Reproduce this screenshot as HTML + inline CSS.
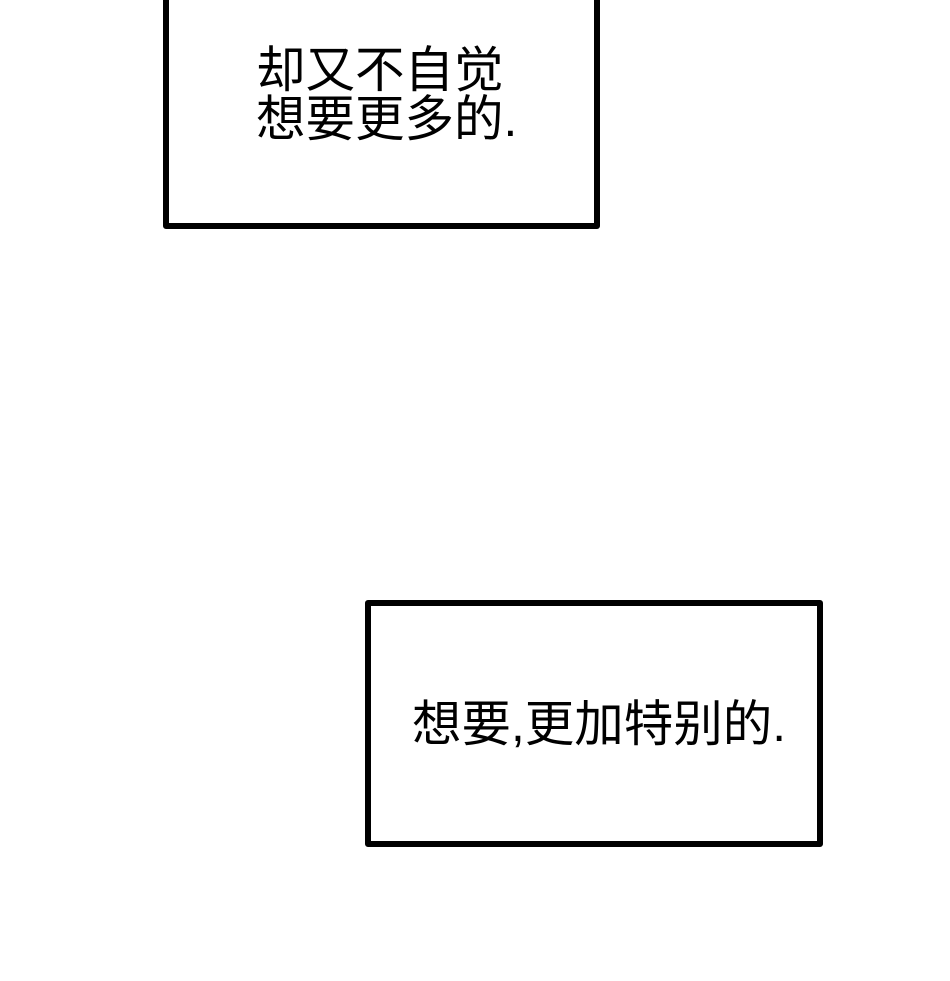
<!DOCTYPE html>
<html><head><meta charset="utf-8"><style>
body{margin:0;width:950px;height:981px;background:#fff;position:relative;overflow:hidden;font-family:"Liberation Sans","Noto Sans CJK SC",sans-serif;color:#000}
.b{position:absolute;border:6px solid #000;border-radius:3px;box-sizing:border-box;background:#fff}
.t{position:absolute;font-size:49.5px;line-height:49px;white-space:nowrap}
</style></head><body>
<div class="b" style="left:163px;top:-20px;width:437px;height:249px"></div>
<div class="t" style="left:256px;top:46px">却又不自觉<br>想要更多的.</div>
<div class="b" style="left:365px;top:600px;width:458px;height:247px"></div>
<div class="t" style="left:412px;top:700px">想要,更加特别的.</div>
</body></html>
